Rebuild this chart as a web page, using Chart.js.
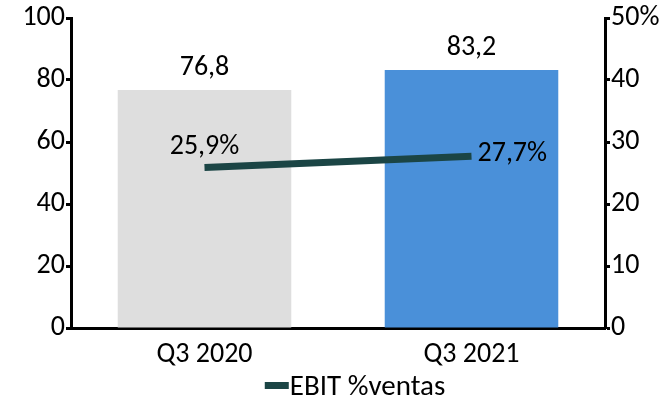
<!DOCTYPE html>
<html>
<head>
<meta charset="utf-8">
<script src="https://cdn.jsdelivr.net/npm/chart.js@4/dist/chart.umd.min.js"></script>
<style>
  html, body { margin: 0; padding: 0; background: #fff; }
  #wrap { width: 667px; height: 400px; position: relative; }
</style>
</head>
<body>
<div id="wrap"><canvas id="c" width="667" height="400"></canvas></div>
<script>
const categories = ['Q3 2020', 'Q3 2021'];
const ebitValues = [76.8, 83.2];
const ebitPctValues = [25.9, 27.7];
const leftTicks = [0, 20, 40, 60, 80, 100];
const rightTicks = ['0', '10', '20', '30', '40', '50%'];
const barColors = ['#dedede', '#4a90d9'];
const lineColor = '#1b4545';
const FONT = 'Carlito, Lato, sans-serif';

const labelPlugin = {
  id: 'valueLabels',
  afterDatasetsDraw(chart) {
    const ctx = chart.ctx;
    ctx.save();
    ctx.fillStyle = '#000';
    ctx.font = '28px ' + FONT;
    ctx.textBaseline = 'middle';
    const barMeta = chart.getDatasetMeta(1);
    barMeta.data.forEach((el, i) => {
      ctx.textAlign = 'center';
      ctx.fillText(ebitValues[i].toFixed(1).replace('.', ','), el.x, el.y - 22);
    });
    const lineMeta = chart.getDatasetMeta(0);
    lineMeta.data.forEach((el, i) => {
      const txt = ebitPctValues[i].toFixed(1).replace('.', ',') + '%';
      if (i === 0) {
        ctx.textAlign = 'center';
        ctx.fillText(txt, el.x, el.y - 20);
      } else {
        ctx.textAlign = 'left';
        ctx.fillText(txt, el.x + 6, el.y - 2);
      }
    });
    ctx.restore();
  }
};

const legendPlugin = {
  id: 'customLegend',
  afterDraw(chart) {
    const ds = chart.data.datasets[0];
    const ctx = chart.ctx;
    ctx.save();
    ctx.font = '29px ' + FONT;
    const tw = ctx.measureText(ds.label).width;
    const sw = 24, gap = 1;
    const total = sw + gap + tw;
    const x0 = 355 - total / 2;
    const yc = 386;
    ctx.fillStyle = ds.borderColor;
    ctx.fillRect(x0, yc - 4, sw, 7);
    ctx.fillStyle = '#000';
    ctx.textAlign = 'left';
    ctx.textBaseline = 'middle';
    ctx.fillText(ds.label, x0 + sw + gap, yc + 2);
    ctx.restore();
  }
};

new Chart(document.getElementById('c'), {
  data: {
    labels: categories,
    datasets: [
      {
        type: 'line',
        label: 'EBIT %ventas',
        data: ebitPctValues,
        yAxisID: 'y1',
        borderColor: lineColor,
        backgroundColor: lineColor,
        borderWidth: 7,
        pointRadius: 0,
        tension: 0,
        order: 0
      },
      {
        type: 'bar',
        label: 'EBIT',
        data: ebitValues,
        yAxisID: 'y',
        backgroundColor: barColors,
        borderWidth: 0,
        categoryPercentage: 1,
        barPercentage: 0.65,
        order: 1
      }
    ]
  },
  options: {
    responsive: false,
    animation: false,
    layout: { padding: { top: 18, left: 0, right: 0, bottom: 32 } },
    plugins: {
      tooltip: { enabled: false },
      legend: { display: false }
    },
    scales: {
      x: {
        afterFit: s => { s.height = 40; },
        grid: { display: false, drawTicks: false },
        border: { display: true, color: '#000', width: 3 },
        ticks: { color: '#000', font: { family: FONT, size: 28 }, padding: 10 }
      },
      y: {
        position: 'left',
        min: leftTicks[0], max: leftTicks[leftTicks.length - 1],
        afterFit: s => { s.width = 71; },
        afterBuildTicks: s => { s.ticks = leftTicks.map(v => ({ value: v })); },
        grid: { drawOnChartArea: false, drawTicks: true, tickLength: 5, tickColor: '#000', tickWidth: 3 },
        border: { display: true, color: '#000', width: 3 },
        ticks: { color: '#000', font: { family: FONT, size: 28 }, padding: 1 }
      },
      y1: {
        position: 'right',
        min: 0, max: 50,
        afterFit: s => { s.width = 62; },
        afterBuildTicks: s => { s.ticks = rightTicks.map((t, i) => ({ value: i * 10 })); },
        grid: { drawOnChartArea: false, drawTicks: true, tickLength: 5, tickColor: '#000', tickWidth: 3 },
        border: { display: true, color: '#000', width: 3 },
        ticks: {
          color: '#000', font: { family: FONT, size: 28 }, padding: 1,
          callback: (v, i) => rightTicks[i]
        }
      }
    }
  },
  plugins: [labelPlugin, legendPlugin]
});
</script>
</body>
</html>
